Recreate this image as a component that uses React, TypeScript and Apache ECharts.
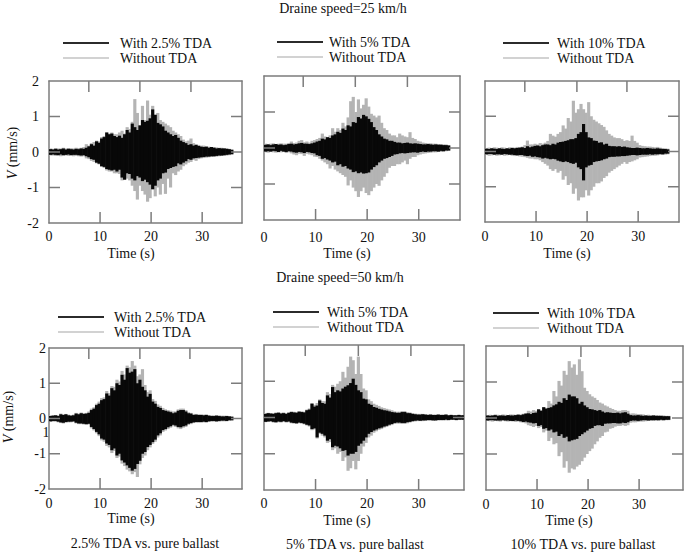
import React, { useEffect, useRef } from 'react';
import * as echarts from 'echarts';

// Sample times (s), 0.5 s bins
const TIME = [0,0.5,1,1.5,2,2.5,3,3.5,4,4.5,5,5.5,6,6.5,7,7.5,8,8.5,9,9.5,10,10.5,11,11.5,12,12.5,13,13.5,14,14.5,15,15.5,16,16.5,17,17.5,18,18.5,19,19.5,20,20.5,21,21.5,22,22.5,23,23.5,24,24.5,25,25.5,26,26.5,27,27.5,28,28.5,29,29.5,30,30.5,31,31.5,32,32.5,33,33.5,34,34.5,35,35.5,36,36.5,37,37.5,38,38.5];

const X_TICK_STEP = 10;
const Y_TICK_STEP = 1;
const Y_MIN = -2;
const Y_MAX = 2;
const X_TICKS = [10, 20, 30];
const Y_TICKS = [-1, 0, 1];

// Panel A: 25 km/h, 2.5% TDA  (upper / lower envelope per bin, mm/s)
const A_WITH_HI = [.08,.07,.09,.07,.08,.1,.07,.09,.08,.07,.09,.08,.1,.09,.12,.16,.22,.18,.3,.26,.38,.42,.55,.5,.52,.45,.42,.46,.4,.5,.62,.55,.8,.7,.62,.75,.9,.85,.88,.95,1.2,1.05,.82,.78,.72,.6,.55,.5,.45,.48,.4,.32,.28,.25,.2,.22,.18,.2,.17,.15,.14,.15,.12,.14,.12,.1,.11,.1,.1,.09,.08,.06];
const A_WITH_LO = [-.08,-.07,-.08,-.09,-.07,-.09,-.08,-.07,-.09,-.08,-.08,-.09,-.1,-.09,-.12,-.15,-.2,-.22,-.3,-.33,-.4,-.42,-.48,-.5,-.52,-.5,-.55,-.5,-.72,-.78,-.6,-.62,-.75,-.8,-.68,-.72,-.82,-.78,-.85,-.92,-1.05,-.95,-.8,-.75,-.6,-.58,-.48,-.45,-.42,-.4,-.32,-.35,-.3,-.26,-.2,-.22,-.18,-.17,-.16,-.15,-.14,-.13,-.13,-.12,-.12,-.11,-.1,-.1,-.09,-.08,-.07,-.06];
const A_WITHOUT_HI = [.1,.09,.11,.1,.1,.12,.1,.11,.11,.1,.12,.11,.12,.14,.22,.18,.25,.28,.32,.3,.42,.45,.55,.52,.55,.5,.5,.55,.6,.52,.7,.65,.85,1.49,1.1,.75,1.3,.9,1.45,1.05,1.3,.95,1.1,.9,.85,.8,.75,.7,.6,.55,.5,.45,.35,.3,.32,.38,.25,.22,.2,.18,.18,.16,.15,.14,.14,.13,.12,.12,.11,.1,.09,.08];
const A_WITHOUT_LO = [-.1,-.1,-.11,-.1,-.12,-.1,-.1,-.11,-.1,-.12,-.11,-.12,-.13,-.12,-.18,-.2,-.25,-.28,-.32,-.35,-.42,-.45,-.52,-.55,-.55,-.6,-.6,-.62,-.8,-.78,-.75,-.8,-.95,-1.1,-1.34,-.95,-1.1,-1.2,-1.4,-1.3,-1.05,-1.25,-1,-1.2,-.9,-1.18,-.75,-1,-.6,-.65,-.55,-.5,-.4,-.35,-.3,-.28,-.22,-.25,-.2,-.18,-.17,-.16,-.15,-.14,-.14,-.13,-.12,-.11,-.11,-.1,-.09,-.08];

// Panel B: 25 km/h, 5% TDA
const B_WITH_HI = [.09,.1,.08,.1,.11,.09,.1,.08,.09,.11,.12,.1,.11,.13,.14,.12,.12,.11,.13,.15,.18,.2,.26,.24,.3,.28,.35,.38,.45,.42,.54,.5,.63,.6,.72,.7,.86,.82,.92,.88,.81,.72,.58,.5,.38,.32,.26,.24,.2,.2,.17,.15,.15,.13,.14,.15,.13,.12,.13,.12,.11,.1,.1,.11,.1,.09,.1,.09,.09,.08,.08,.07];
const B_WITH_LO = [-.1,-.09,-.1,-.08,-.09,-.11,-.08,-.1,-.11,-.09,-.1,-.12,-.13,-.11,-.12,-.14,-.11,-.12,-.14,-.15,-.2,-.22,-.3,-.28,-.32,-.35,-.4,-.38,-.48,-.45,-.52,-.5,-.57,-.6,-.67,-.65,-.7,-.68,-.71,-.7,-.68,-.6,-.53,-.48,-.4,-.35,-.3,-.28,-.25,-.22,-.18,-.17,-.15,-.14,-.15,-.14,-.13,-.12,-.12,-.13,-.11,-.1,-.11,-.1,-.1,-.09,-.09,-.1,-.08,-.09,-.07,-.07];
const B_WITHOUT_HI = [.12,.11,.12,.13,.11,.12,.13,.12,.12,.14,.18,.14,.15,.2,.22,.16,.18,.15,.2,.22,.25,.28,.4,.32,.3,.35,.55,.45,.55,.5,.7,.6,.85,1.3,1.42,1,1.35,1.1,1.2,1.38,1.15,.95,.9,.85,.9,.7,.55,.5,.4,.35,.35,.3,.4,.35,.32,.3,.44,.28,.25,.2,.18,.15,.14,.13,.13,.12,.12,.11,.11,.1,.1,.08];
const B_WITHOUT_LO = [-.12,-.13,-.11,-.12,-.13,-.12,-.12,-.11,-.14,-.12,-.15,-.18,-.2,-.16,-.17,-.22,-.16,-.18,-.2,-.24,-.25,-.3,-.35,-.4,-.45,-.57,-.5,-.6,-.65,-.7,-.75,-.8,-1.04,-.9,-1.1,-1.2,-1.36,-1.2,-1.1,-1.25,-1.31,-1.2,-1.1,-1,-1.05,-.9,-.8,-.7,-.55,-.5,-.5,-.45,-.45,-.4,-.35,-.45,-.3,-.25,-.25,-.2,-.18,-.16,-.15,-.14,-.13,-.12,-.12,-.11,-.11,-.1,-.09,-.08];

// Panel C: 25 km/h, 10% TDA
const C_WITH_HI = [.08,.07,.09,.08,.07,.09,.08,.07,.09,.08,.1,.09,.1,.11,.12,.1,.15,.12,.14,.16,.17,.15,.18,.2,.2,.18,.22,.2,.25,.27,.28,.3,.32,.35,.35,.38,.5,.55,.78,.55,.4,.38,.31,.3,.25,.26,.2,.22,.16,.15,.15,.14,.15,.13,.14,.12,.11,.1,.1,.11,.1,.09,.09,.1,.09,.08,.08,.09,.08,.07,.07,.06];
const C_WITH_LO = [-.08,-.07,-.07,-.09,-.08,-.08,-.09,-.07,-.08,-.09,-.09,-.1,-.11,-.1,-.1,-.12,-.13,-.12,-.15,-.14,-.16,-.17,-.2,-.18,-.2,-.22,-.21,-.22,-.26,-.28,-.3,-.28,-.3,-.33,-.35,-.32,-.45,-.5,-.82,-.45,-.4,-.38,-.3,-.28,-.27,-.25,-.22,-.2,-.16,-.15,-.15,-.14,-.14,-.13,-.13,-.12,-.11,-.1,-.1,-.11,-.1,-.09,-.09,-.09,-.08,-.09,-.08,-.08,-.07,-.08,-.06,-.06];
const C_WITHOUT_HI = [.1,.11,.1,.12,.11,.1,.12,.11,.1,.12,.12,.11,.13,.12,.14,.18,.31,.2,.2,.22,.2,.24,.22,.25,.3,.5,.45,.42,.5,.55,.74,.65,.95,.85,1.44,1.1,1.2,1.35,1.2,1.1,1.4,1,.9,.85,.8,.75,.7,.6,.5,.45,.4,.38,.38,.35,.3,.32,.3,.45,.3,.25,.18,.16,.15,.14,.14,.13,.12,.13,.11,.1,.09,.08];
const C_WITHOUT_LO = [-.1,-.12,-.11,-.1,-.12,-.11,-.1,-.12,-.11,-.1,-.12,-.13,-.12,-.14,-.15,-.16,-.18,-.2,-.2,-.22,-.22,-.25,-.3,-.35,-.4,-.5,-.55,-.5,-.6,-.55,-.8,-.7,-.95,-.9,-1.2,-1.05,-1.39,-1.3,-1.3,-1.1,-1.25,-1.1,-1,-.9,-.9,-.85,-.75,-.7,-.6,-.55,-.5,-.45,-.4,-.35,-.3,-.35,-.3,-.28,-.25,-.22,-.17,-.16,-.15,-.14,-.13,-.12,-.12,-.11,-.1,-.1,-.09,-.08];

// Panel D: 50 km/h, 2.5% TDA
const D_WITH_HI = [.07,.08,.09,.07,.12,.1,.12,.09,.08,.09,.14,.12,.15,.13,.14,.16,.24,.28,.38,.42,.52,.55,.71,.65,.86,.8,1,.95,1.24,1.1,1.43,1.3,1.33,1.4,1,1.1,.9,.8,.62,.7,.48,.42,.33,.3,.24,.22,.2,.18,.15,.17,.22,.24,.24,.2,.15,.14,.1,.11,.1,.1,.09,.1,.08,.07,.07,.08,.07,.06,.06,.07,.06,.05];
const D_WITH_LO = [-.08,-.07,-.07,-.09,-.11,-.12,-.1,-.09,-.09,-.08,-.12,-.14,-.14,-.15,-.16,-.15,-.24,-.3,-.38,-.45,-.57,-.6,-.71,-.75,-.9,-.85,-1.05,-1,-1.19,-1.25,-1.33,-1.4,-1.48,-1.43,-1.29,-1.2,-1,-.95,-.81,-.75,-.67,-.6,-.48,-.42,-.33,-.3,-.25,-.22,-.18,-.2,-.24,-.25,-.22,-.2,-.15,-.13,-.11,-.1,-.1,-.1,-.09,-.1,-.08,-.07,-.07,-.08,-.07,-.06,-.06,-.07,-.05,-.05];
const D_WITHOUT_HI = [.09,.1,.1,.09,.14,.12,.13,.11,.1,.11,.16,.14,.17,.15,.16,.2,.28,.32,.42,.48,.58,.6,.78,.72,.92,.9,1.1,1.05,1.35,1.25,1.5,1.45,1.63,1.5,1.2,1.25,1.4,.95,.75,.8,.55,.5,.4,.36,.3,.26,.24,.22,.2,.2,.26,.28,.28,.24,.18,.16,.13,.13,.12,.12,.11,.12,.1,.09,.09,.1,.09,.08,.08,.08,.07,.06];
const D_WITHOUT_LO = [-.1,-.09,-.09,-.11,-.13,-.14,-.12,-.11,-.11,-.1,-.14,-.16,-.16,-.17,-.18,-.17,-.28,-.34,-.42,-.5,-.62,-.66,-.78,-.82,-.98,-.92,-1.12,-1.08,-1.28,-1.35,-1.45,-1.5,-1.58,-1.52,-1.66,-1.3,-1.12,-1.05,-.9,-.82,-.72,-.66,-.54,-.48,-.38,-.34,-.3,-.26,-.22,-.24,-.28,-.3,-.26,-.24,-.18,-.16,-.13,-.12,-.12,-.12,-.11,-.12,-.1,-.09,-.09,-.1,-.09,-.08,-.08,-.08,-.06,-.06];

// Panel E: 50 km/h, 5% TDA
const E_WITH_HI = [.1,.12,.11,.1,.12,.13,.11,.12,.1,.13,.15,.14,.13,.16,.15,.14,.2,.22,.38,.3,.33,.47,.4,.38,.61,.55,.84,.7,.75,.72,.8,.85,.89,.95,1.07,.9,.75,.7,.52,.5,.38,.35,.29,.27,.24,.22,.2,.19,.17,.15,.14,.13,.13,.15,.15,.12,.12,.1,.09,.08,.08,.09,.08,.07,.08,.07,.07,.08,.07,.07,.08,.06,.07,.06,.06,.07,.06,.06];
const E_WITH_LO = [-.12,-.11,-.1,-.12,-.13,-.11,-.12,-.1,-.12,-.11,-.14,-.15,-.16,-.14,-.15,-.17,-.2,-.22,-.32,-.3,-.55,-.42,-.45,-.5,-.64,-.6,-.82,-.78,-.8,-.85,-.92,-.9,-1.05,-1,-1,-.95,-.78,-.72,-.64,-.55,-.45,-.4,-.36,-.33,-.3,-.28,-.25,-.23,-.2,-.18,-.15,-.14,-.14,-.15,-.15,-.13,-.12,-.1,-.09,-.08,-.09,-.08,-.08,-.07,-.07,-.08,-.08,-.07,-.07,-.07,-.06,-.07,-.06,-.06,-.07,-.06,-.06,-.06];
const E_WITHOUT_HI = [.12,.13,.12,.12,.14,.15,.13,.14,.12,.14,.17,.16,.15,.18,.17,.16,.22,.25,.4,.35,.4,.5,.45,.45,.7,.65,.9,.85,.93,1,1.26,1.1,1.4,1.68,1.58,1.2,1.68,1.2,.8,.75,.5,.45,.38,.35,.32,.28,.26,.24,.22,.2,.17,.16,.16,.18,.18,.15,.14,.12,.11,.1,.1,.1,.09,.09,.09,.08,.08,.09,.08,.08,.09,.07,.08,.07,.07,.08,.07,.07];
const E_WITHOUT_LO = [-.13,-.12,-.12,-.14,-.15,-.13,-.14,-.12,-.14,-.13,-.16,-.17,-.18,-.16,-.17,-.19,-.22,-.25,-.35,-.33,-.58,-.45,-.5,-.55,-.7,-.68,-.9,-.85,-1,-.95,-1.2,-1.1,-1.47,-1.4,-1.2,-1.43,-1.2,-1,-.8,-.7,-.55,-.5,-.42,-.38,-.34,-.32,-.28,-.26,-.23,-.21,-.18,-.17,-.17,-.18,-.18,-.16,-.14,-.12,-.11,-.1,-.1,-.1,-.09,-.09,-.09,-.09,-.09,-.08,-.08,-.08,-.08,-.08,-.07,-.07,-.08,-.07,-.07,-.07];

// Panel F: 50 km/h, 10% TDA
const F_WITH_HI = [.07,.06,.07,.08,.06,.07,.07,.06,.08,.07,.07,.08,.09,.08,.1,.12,.13,.11,.14,.15,.24,.2,.3,.26,.28,.3,.35,.38,.45,.42,.55,.5,.65,.6,.6,.55,.4,.45,.35,.3,.25,.24,.22,.2,.22,.18,.15,.16,.15,.14,.14,.15,.13,.15,.16,.12,.08,.07,.07,.08,.07,.06,.07,.06,.06,.07,.06,.06,.06,.05,.05,.05];
const F_WITH_LO = [-.07,-.06,-.06,-.07,-.07,-.07,-.06,-.07,-.07,-.08,-.08,-.07,-.08,-.09,-.11,-.1,-.12,-.13,-.15,-.14,-.22,-.2,-.3,-.28,-.35,-.32,-.4,-.38,-.5,-.45,-.55,-.52,-.65,-.62,-.6,-.58,-.5,-.45,-.4,-.35,-.3,-.28,-.22,-.2,-.2,-.22,-.16,-.15,-.15,-.14,-.14,-.15,-.15,-.13,-.14,-.12,-.08,-.07,-.07,-.08,-.07,-.06,-.06,-.07,-.06,-.06,-.06,-.06,-.05,-.06,-.05,-.05];
const F_WITHOUT_HI = [.08,.09,.08,.1,.09,.08,.1,.09,.08,.1,.1,.09,.11,.1,.12,.14,.2,.18,.22,.2,.25,.22,.3,.28,.47,.4,.75,.6,1.03,.9,1.31,1.2,1.58,1.4,1.49,1.2,1.63,1.3,.84,.75,.66,.6,.56,.5,.43,.4,.35,.32,.28,.25,.22,.2,.2,.22,.22,.2,.12,.13,.12,.11,.11,.1,.08,.09,.08,.08,.08,.07,.07,.07,.06,.06];
const F_WITHOUT_LO = [-.08,-.09,-.1,-.08,-.09,-.1,-.08,-.09,-.1,-.09,-.1,-.11,-.1,-.12,-.13,-.15,-.2,-.22,-.25,-.22,-.28,-.25,-.4,-.35,-.64,-.55,-.73,-.7,-1.06,-.95,-1.38,-1.2,-1.52,-1.4,-1.43,-1.35,-1.3,-1.2,-1.1,-1,-.92,-.85,-.73,-.65,-.55,-.5,-.4,-.38,-.3,-.28,-.24,-.22,-.22,-.2,-.22,-.2,-.13,-.12,-.12,-.11,-.1,-.1,-.09,-.08,-.08,-.08,-.07,-.08,-.07,-.07,-.06,-.06];

const WITHOUT_NAME = 'Without TDA';
const FONT = '"Liberation Serif", "Times New Roman", Times, serif';
const BLACK = '#080808';
const GREY = '#b4b4b4';
const FRAME = '#7c7c7c';
const TICK_LEN = 11;

const PANELS = [
  { name: 'With 2.5% TDA', hi: A_WITH_HI, lo: A_WITH_LO, hi0: A_WITHOUT_HI, lo0: A_WITHOUT_LO,
    grid: { left: 49, top: 81, width: 193, height: 142 }, xMax: 37.8, topTicks: [7.8, 17.8, 27.8],
    xMargin: 6, yLabels: true, yMargin: 10, legend: { left: 63, top: 35.5, pad: 6 } },
  { name: 'With 5% TDA', hi: B_WITH_HI, lo: B_WITH_LO, hi0: B_WITHOUT_HI, lo0: B_WITHOUT_LO,
    grid: { left: 264, top: 76, width: 196, height: 144 }, xMax: 38, topTicks: [7.6, 17.7, 27.8],
    xMargin: 10, yLabels: false, yMargin: 10, legend: { left: 277, top: 34.5, pad: 1 } },
  { name: 'With 10% TDA', hi: C_WITH_HI, lo: C_WITH_LO, hi0: C_WITHOUT_HI, lo0: C_WITHOUT_LO,
    grid: { left: 485, top: 81, width: 194, height: 141 }, xMax: 38, topTicks: [7.8, 18, 27.8],
    xMargin: 7, yLabels: false, yMargin: 10, legend: { left: 503, top: 35.5, pad: 3 } },
  { name: 'With 2.5% TDA', hi: D_WITH_HI, lo: D_WITH_LO, hi0: D_WITHOUT_HI, lo0: D_WITHOUT_LO,
    grid: { left: 49, top: 348, width: 193, height: 141 }, xMax: 37.8, topTicks: [7.8, 17.8, 27.6],
    xMargin: 7, yLabels: true, yMargin: 3, legend: { left: 58, top: 309.5, pad: 5 } },
  { name: 'With 5% TDA', hi: E_WITH_HI, lo: E_WITH_LO, hi0: E_WITHOUT_HI, lo0: E_WITHOUT_LO,
    grid: { left: 264, top: 345, width: 200, height: 145 }, xMax: 38.8, topTicks: [8, 18.3, 28.5],
    xMargin: 6, yLabels: false, yMargin: 10, legend: { left: 273, top: 304.5, pad: 3 } },
  { name: 'With 10% TDA', hi: F_WITH_HI, lo: F_WITH_LO, hi0: F_WITHOUT_HI, lo0: F_WITHOUT_LO,
    grid: { left: 486, top: 346, width: 197, height: 144 }, xMax: 38.6, topTicks: [8.2, 18.6, 28.2],
    xMargin: 7, yLabels: false, yMargin: 10, legend: { left: 493, top: 305.5, pad: 3 } },
];

const TEXTS = [
  { x: 343, y: 8, text: 'Draine speed=25 km/h' },
  { x: 340, y: 277, text: 'Draine speed=50 km/h' },
  { x: 131, y: 253, text: 'Time (s)' },
  { x: 347, y: 253, text: 'Time (s)' },
  { x: 567, y: 253, text: 'Time (s)' },
  { x: 131, y: 518, text: 'Time (s)' },
  { x: 347, y: 520, text: 'Time (s)' },
  { x: 569, y: 520, text: 'Time (s)' },
  { x: 145, y: 543, text: '2.5% TDA vs. pure ballast' },
  { x: 355, y: 544, text: '5% TDA vs. pure ballast' },
  { x: 583, y: 544, text: '10% TDA vs. pure ballast' },
  { x: 46, y: 432, text: '1' },
];
const V_TITLES = [{ x: 12, y: 153 }, { x: 8, y: 417 }];

function envelope(idx: number, name: string, hi: number[], lo: number[], color: string) {
  return {
    type: 'custom',
    name,
    xAxisIndex: idx * 2,
    yAxisIndex: idx * 2,
    clip: true,
    silent: true,
    z: 2,
    encode: { x: 0, y: [1, 2] },
    itemStyle: { color },
    data: hi.map((h, k) => [TIME[k], h, lo[k]]),
    renderItem: (_p: any, api: any) => {
      const t = api.value(0);
      const a = api.coord([t, api.value(1)]);
      const b = api.coord([t, api.value(2)]);
      const w = api.size([0.5, 0])[0];
      return {
        type: 'rect',
        shape: { x: a[0], y: a[1], width: w + 0.6, height: b[1] - a[1] },
        style: { fill: color },
      };
    },
  };
}

// inward frame ticks drawn as thin rects: [x, y, direction] with 0 = up, 1 = down, 2 = right, 3 = left
function frameTicks(idx: number, xMax: number, topTicks: number[]) {
  const data: number[][] = [];
  X_TICKS.forEach((t) => data.push([t, Y_MIN, 0]));
  topTicks.forEach((t) => data.push([t, Y_MAX, 1]));
  Y_TICKS.forEach((v) => data.push([0, v, 2]));
  Y_TICKS.forEach((v) => data.push([xMax, v, 3]));
  return {
    type: 'custom',
    name: 'frame ticks',
    xAxisIndex: idx * 2,
    yAxisIndex: idx * 2,
    clip: false,
    silent: true,
    z: 10,
    encode: { x: 0, y: 1 },
    itemStyle: { color: FRAME },
    data,
    renderItem: (_p: any, api: any) => {
      const p = api.coord([api.value(0), api.value(1)]);
      const dir = api.value(2);
      let shape;
      if (dir === 0) shape = { x: p[0] - 0.75, y: p[1] - TICK_LEN, width: 1.5, height: TICK_LEN };
      else if (dir === 1) shape = { x: p[0] - 0.75, y: p[1], width: 1.5, height: TICK_LEN };
      else if (dir === 2) shape = { x: p[0], y: p[1] - 0.75, width: TICK_LEN, height: 1.5 };
      else shape = { x: p[0] - TICK_LEN, y: p[1] - 0.75, width: TICK_LEN, height: 1.5 };
      return { type: 'rect', shape, style: { fill: FRAME } };
    },
  };
}

export default function App() {
  const ref = useRef<HTMLDivElement>(null);
  useEffect(() => {
    if (!ref.current) return;
    const chart = echarts.init(ref.current, undefined, { renderer: 'svg' });
    const frameLine = () => ({ show: true, onZero: false, lineStyle: { color: FRAME, width: 1.5 } });
    const grids: any[] = [];
    const xAxes: any[] = [];
    const yAxes: any[] = [];
    const series: any[] = [];
    const legends: any[] = [];
    PANELS.forEach((p, i) => {
      grids.push({ ...p.grid, show: false });
      xAxes.push({
        gridIndex: i, type: 'value', position: 'bottom', min: 0, max: p.xMax, interval: X_TICK_STEP,
        axisLine: frameLine(), splitLine: { show: false }, axisTick: { show: false },
        axisLabel: { margin: p.xMargin, fontSize: 14, fontFamily: FONT, color: '#111', showMaxLabel: false, showMinLabel: true },
      });
      xAxes.push({
        gridIndex: i, type: 'value', position: 'top', min: 0, max: p.xMax, interval: X_TICK_STEP,
        axisLine: frameLine(), splitLine: { show: false }, axisTick: { show: false },
        axisLabel: { show: false },
      });
      yAxes.push({
        gridIndex: i, type: 'value', position: 'left', min: Y_MIN, max: Y_MAX, interval: Y_TICK_STEP,
        axisLine: frameLine(), splitLine: { show: false }, axisTick: { show: false },
        axisLabel: { show: p.yLabels, margin: p.yMargin, fontSize: 14, fontFamily: FONT, color: '#111' },
      });
      yAxes.push({
        gridIndex: i, type: 'value', position: 'right', min: Y_MIN, max: Y_MAX, interval: Y_TICK_STEP,
        axisLine: frameLine(), splitLine: { show: false }, axisTick: { show: false },
        axisLabel: { show: false },
      });
      series.push(envelope(i, WITHOUT_NAME, p.hi0, p.lo0, GREY));
      series.push(envelope(i, p.name, p.hi, p.lo, BLACK));
      series.push(frameTicks(i, p.xMax, p.topTicks));
      legends.push({
        orient: 'vertical', left: p.legend.left, top: p.legend.top, padding: 0,
        itemWidth: 46, itemHeight: 2, itemGap: 0, icon: 'rect', selectedMode: false,
        data: [
          { name: p.name, itemStyle: { color: '#2b2b2b' } },
          { name: WITHOUT_NAME, itemStyle: { color: '#d2d2d2' } },
        ],
        textStyle: { fontFamily: FONT, fontSize: 14, color: '#111', lineHeight: 15, padding: [0, 0, 0, p.legend.pad] },
      });
    });
    const graphic: any[] = TEXTS.map((t) => ({
      type: 'text', x: t.x, y: t.y, silent: true,
      style: { text: t.text, fill: '#111', fontSize: 14, fontFamily: FONT, align: 'center', verticalAlign: 'middle', textAlign: 'center', textVerticalAlign: 'middle' },
    }));
    V_TITLES.forEach((v) => {
      graphic.push({
        type: 'text', x: v.x, y: v.y, rotation: Math.PI / 2, silent: true,
        style: {
          text: '{i|V} (mm/s)', fill: '#111', fontSize: 14, fontFamily: FONT,
          align: 'center', verticalAlign: 'middle', textAlign: 'center', textVerticalAlign: 'middle',
          rich: { i: { fontStyle: 'italic', fontSize: 14, fontFamily: FONT, fill: '#111' } },
        },
      });
    });
    chart.setOption({
      animation: false,
      backgroundColor: '#fff',
      grid: grids,
      xAxis: xAxes,
      yAxis: yAxes,
      legend: legends,
      series,
      graphic,
    });
    return () => chart.dispose();
  }, []);
  return <div ref={ref} style={{ position: 'absolute', left: 0, top: 0, width: 685, height: 552 }} />;
}
